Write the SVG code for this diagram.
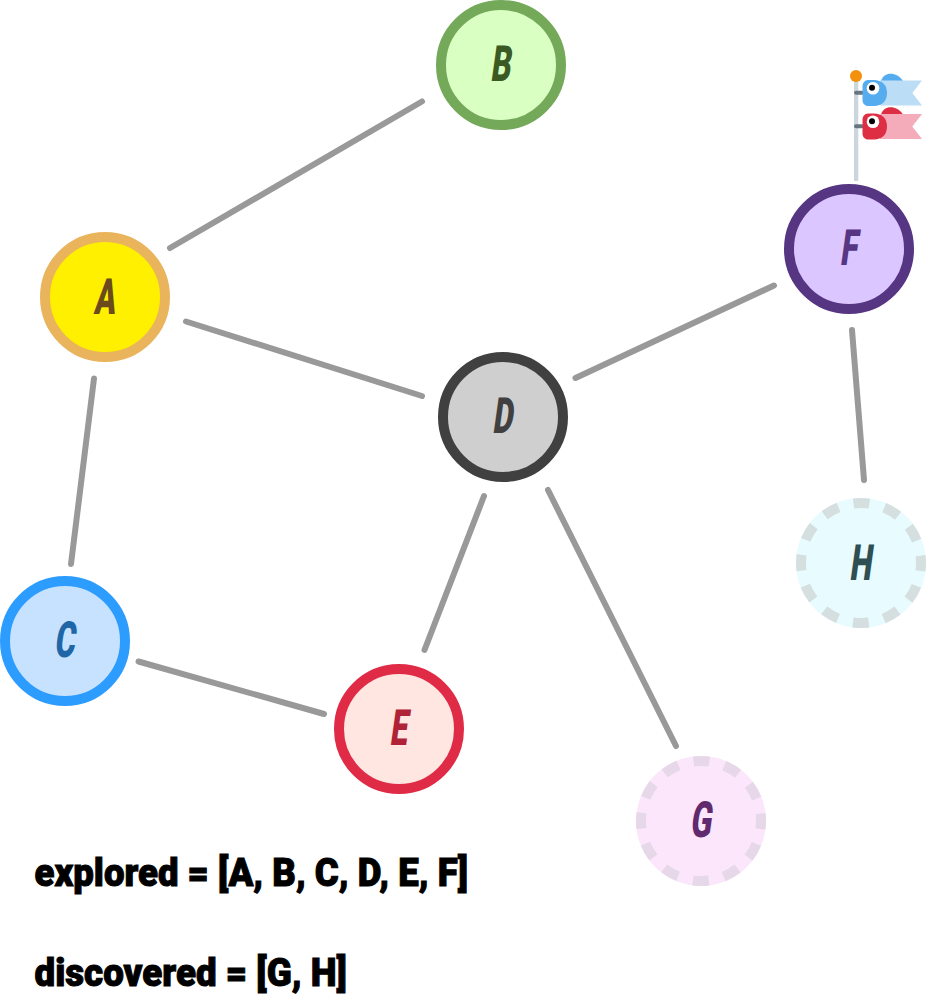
<svg xmlns="http://www.w3.org/2000/svg" width="926" height="996" viewBox="0 0 926 996">
<style>
.e{stroke:#999;stroke-width:6;stroke-linecap:round;fill:none}
.n{stroke-width:10}
.d{stroke-width:10;stroke-dasharray:16 15.416;stroke-dashoffset:8;fill:none}
.l{font-family:Roboto,"Liberation Sans",sans-serif;font-weight:900;font-size:50px;text-anchor:middle}
.t{font-family:Roboto,"Liberation Sans",sans-serif;font-weight:900;font-size:38px;fill:#000;stroke:#000;stroke-width:1}
</style>
<rect width="926" height="996" fill="#fff"/>
<g id="connectors">
<line class="e" x1="170" y1="248" x2="422" y2="101.500"/>
<line class="e" x1="186" y1="321.500" x2="422" y2="396"/>
<line class="e" x1="94" y1="378.500" x2="71" y2="564"/>
<line class="e" x1="138.500" y1="661.500" x2="324" y2="714"/>
<line class="e" x1="484" y1="496" x2="424.500" y2="650"/>
<line class="e" x1="548" y1="490" x2="676" y2="746"/>
<line class="e" x1="575.500" y1="378" x2="774" y2="285.500"/>
<line class="e" x1="852" y1="330" x2="864" y2="480"/>
</g>
<g id="node-A"><circle class="n" cx="105" cy="297" r="60" fill="#fff000" stroke="#e9b45c"/><text class="l" transform="translate(104 314) skewX(-8) scale(.62 1)" fill="#6b4a1c">A</text></g>
<g id="node-B"><circle class="n" cx="501" cy="65" r="60" fill="#d9ffc2" stroke="#74a95a"/><text class="l" transform="translate(500 81) skewX(-8) scale(.62 1)" fill="#3b5a23">B</text></g>
<g id="node-C"><circle class="n" cx="65" cy="641" r="60" fill="#c6e2ff" stroke="#2d9cff"/><text class="l" transform="translate(64 657) skewX(-8) scale(.62 1)" fill="#1f66a6">C</text></g>
<g id="node-D"><circle class="n" cx="503" cy="417" r="60" fill="#cfcfcf" stroke="#404040"/><text class="l" transform="translate(502 433) skewX(-8) scale(.62 1)" fill="#404040">D</text></g>
<g id="node-E"><circle class="n" cx="399" cy="729" r="60" fill="#ffe6e0" stroke="#e02b46"/><text class="l" transform="translate(398 745) skewX(-8) scale(.62 1)" fill="#b02238">E</text></g>
<g id="node-F"><circle class="n" cx="849" cy="249" r="60" fill="#dcc6ff" stroke="#563582"/><text class="l" transform="translate(848 265) skewX(-8) scale(.62 1)" fill="#563582">F</text></g>
<g id="node-G"><circle cx="701" cy="821" r="65" fill="#fbe6fc"/><circle class="d" cx="701" cy="821" r="60" stroke="#e6d8e8"/><text class="l" transform="translate(700 837) skewX(-8) scale(.62 1)" fill="#622a6e">G</text></g>
<g id="node-H"><circle cx="861" cy="563" r="65" fill="#e8fbff"/><circle class="d" cx="861" cy="563" r="60" stroke="#d5dfe0"/><text class="l" transform="translate(860 580) skewX(-8) scale(.62 1)" fill="#2f4f52">H</text></g>
<g id="flags">
<rect x="854" y="76" width="4.300" height="105" fill="#ccd6dd"/>
<circle cx="856" cy="76" r="6" fill="#f4900c"/>
<g id="flag-blue">
<path d="M881 81C884 71 897 72 903 81Z" fill="#55acee"/>
<path fill="#bbddf5" d="M880 80.500H922L912.300 93L922 105.500H880Z"/>
<rect x="854" y="90.700" width="10" height="4" rx="2" fill="#66757f"/>
<path fill="#55acee" d="M868 80H874C882 80 887 85 887 93C887 101 882 106 874 106H868C865 106 862.500 103.500 862.500 100V86C862.500 83 865 80 868 80Z"/>
<circle cx="873" cy="88.300" r="6.300" fill="#fff"/>
<circle cx="872" cy="87.700" r="3" fill="#000"/>
</g>
<g id="flag-red" transform="translate(0 33.500)">
<path d="M881 81C884 71 897 72 903 81Z" fill="#dd2e44"/>
<path fill="#f4abba" d="M880 80.500H922L912.300 93L922 105.500H880Z"/>
<rect x="854" y="90.700" width="10" height="4" rx="2" fill="#66757f"/>
<path fill="#dd2e44" d="M868 80H874C882 80 887 85 887 93C887 101 882 106 874 106H868C865 106 862.500 103.500 862.500 100V86C862.500 83 865 80 868 80Z"/>
<circle cx="873" cy="88.300" r="6.300" fill="#fff"/>
<circle cx="872" cy="87.700" r="3" fill="#000"/>
</g>
</g>
<g id="legend">
<text class="t" x="34.500" y="886" textLength="433.500" lengthAdjust="spacingAndGlyphs">explored = [A, B, C, D, E, F]</text>
<text class="t" x="34.500" y="986" textLength="312.500" lengthAdjust="spacingAndGlyphs">discovered = [G, H]</text>
</g>
</svg>
